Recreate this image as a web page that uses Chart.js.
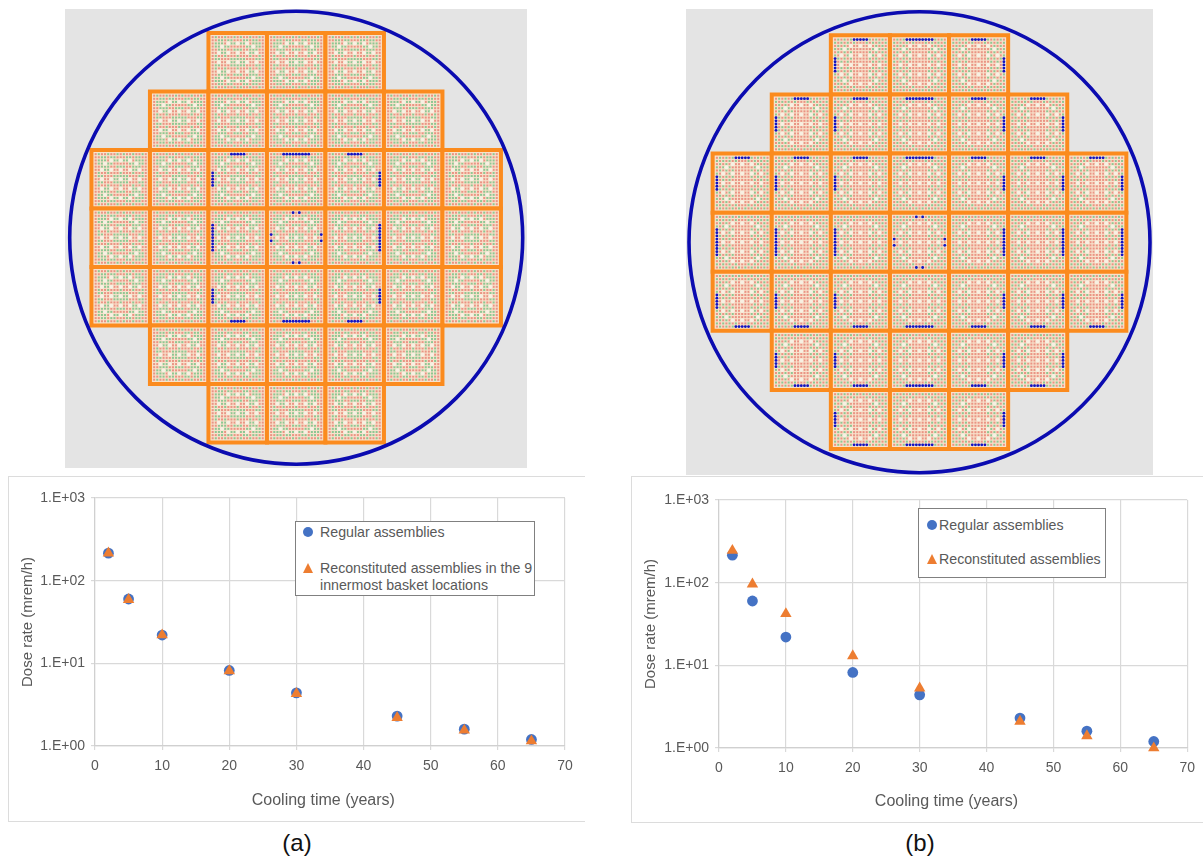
<!DOCTYPE html>
<html>
<head>
<meta charset="utf-8">
<title>Dose rate vs cooling time</title>
<script src="https://cdn.jsdelivr.net/npm/chart.js@4"></script>
<style>
    html, body { margin: 0; padding: 0; background: #fff; overflow: hidden; }
    body { width: 1203px; height: 859px; position: relative; font-family: "Liberation Sans", Arial, sans-serif; color: #595959; filter: blur(0.35px); }
    canvas { position: absolute; display: block; }
    .frame { position: absolute; border: 1px solid #dcdcdc; border-right: none; box-sizing: border-box; }
    .legendBox { position: absolute; background: #fff; border: 1.5px solid #808080; box-sizing: border-box; font-size: 14.2px; line-height: 17px; }
    .legendBox span { position: absolute; white-space: nowrap; }
    .dot { position: absolute; width: 10px; height: 10px; border-radius: 50%; background: #4472c4; }
    .tri { position: absolute; width: 0; height: 0; border-left: 5px solid transparent; border-right: 5px solid transparent; border-bottom: 10px solid #ed7d31; }
    .caption { position: absolute; color: #111; font-size: 24px; line-height: 28px; width: 60px; text-align: center; }
</style>
</head>
<body>

<canvas id="coreA" width="462" height="459" style="left:65px;top:9px"></canvas>
<canvas id="coreB" width="467" height="466" style="left:686px;top:9px"></canvas>

<div class="frame" style="left:8px;top:476px;width:577px;height:346px"></div>
<div class="frame" style="left:631px;top:476px;width:572px;height:347px"></div>
<canvas id="doseA" width="577" height="346" style="left:8px;top:476px"></canvas>
<canvas id="doseB" width="572" height="347" style="left:631px;top:476px"></canvas>

<div class="legendBox" style="left:295px;top:521px;width:240px;height:75px">
    <div class="dot" style="left:7px;top:5px"></div><span style="left:24px;top:2px">Regular assemblies</span>
    <div class="tri" style="left:7px;top:41px"></div><span style="left:24px;top:38px">Reconstituted assemblies in the 9</span>
    <span style="left:24px;top:55px">innermost basket locations</span>
</div>
<div class="legendBox" style="left:918px;top:508px;width:188px;height:70px">
    <div class="dot" style="left:8px;top:11px"></div><span style="left:20px;top:8px">Regular assemblies</span>
    <div class="tri" style="left:8px;top:45px"></div><span style="left:20px;top:42px">Reconstituted assemblies</span>
</div>

<div class="caption" style="left:267px;top:829px">(a)</div>
<div class="caption" style="left:890px;top:829px">(b)</div>

<script>
// Dose rate data
const coolingYears = [2, 5, 10, 20, 30, 45, 55, 65];
const regularDose = [215, 60, 22, 8.2, 4.4, 2.3, 1.6, 1.2];
const reconDoseA = [215, 59, 22, 8.1, 4.3, 2.2, 1.55, 1.15];
const reconDoseB = [245, 96, 42, 13, 5.3, 2.1, 1.4, 1.0];
const doseTicks = [1, 10, 100, 1000];
const doseTickLabels = ['1.E+00', '1.E+01', '1.E+02', '1.E+03'];

// Basket layout: how many assemblies sit in each row
const rowWidths = [3, 5, 7, 7, 7, 5, 3];

// Upper half of one 17x17 assembly (r = red pin, g = green pin, o = guide tube), mirrored for the lower half
const pinRowsA = [
    'rgrrgrrgrgrrgrrgr',
    'rrggrggrrrggrggrr',
    'rgggroggoggorgggr',
    'rggoggrrrrrggoggr',
    'rrgggrrgggrrgggrr',
    'rroggorrorroggorr',
    'rgrrgrrrgrrrgrrgr',
    'rggrrrgggggrrrggr',
    'rrorroggoggorrorr'
];
const pinRowsB = [
    'rgrgrgrgrgrgrgrgr',
    'grgrgrgrrrgrgrgrg',
    'rgrgrorrorrorgrgr',
    'grgogrrrrrrrgogrg',
    'rgrgrgrrrrrgrgrgr',
    'grorgorrorrogrorg',
    'rgrgrgrrrrrgrgrgr',
    'grgrgrrrrrrrgrgrg',
    'rrorrorrorrorrorr'
];

Chart.defaults.font.family = '"Liberation Sans", Arial, sans-serif';
Chart.defaults.color = '#595959';
Chart.defaults.animation = false;

const rowCenter = 3;
const pinPitch = 0.0535;

function forEachAssembly(callback) {
    rowWidths.forEach((width, row) => {
        const firstCol = rowCenter - (width - 1) / 2;
        for (let i = 0; i < width; i++) {
            callback(row, firstCol + i);
        }
    });
}

// Which edge pins of an assembly are blue, depends on the side of the basket it sits on
function bluePins(row, col) {
    const pins = [];
    const dRow = row - rowCenter;
    const dCol = col - rowCenter;
    const range5 = [6, 7, 8, 9, 10];
    const range9 = [4, 5, 6, 7, 8, 9, 10, 11, 12];
    const centerPair = [7, 9];

    if (dRow === 0 && dCol === 0) {
        centerPair.forEach(k => {
            pins.push([0, k], [16, k], [k, 0], [k, 16]);
        });
        return pins;
    }
    if (dRow !== 0) {
        const r = dRow < 0 ? 0 : 16;
        (dCol === 0 ? range9 : range5).forEach(k => pins.push([r, k]));
    }
    if (dCol !== 0) {
        const c = dCol < 0 ? 0 : 16;
        (dRow === 0 ? range9 : range5).forEach(k => pins.push([k, c]));
    }
    return pins;
}

function drawCore(canvasId, pinRows, panel) {
    const allRows = pinRows.concat(pinRows.slice(0, 8).reverse());
    const boxes = [], red = [], green = [], tubes = [], blue = [];

    forEachAssembly((row, col) => {
        const ax = col - rowCenter;
        const ay = rowCenter - row;
        boxes.push({ x: ax, y: ay });

        allRows.forEach((rowText, r) => {
            for (let c = 0; c < rowText.length; c++) {
                const p = { x: ax + (c - 8) * pinPitch, y: ay + (8 - r) * pinPitch };
                if (rowText[c] === 'o') tubes.push(p);
                else if (rowText[c] === 'g') green.push(p);
                else red.push(p);
            }
        });

        if (panel.blueOnlyInner && (Math.abs(row - rowCenter) > 1 || Math.abs(col - rowCenter) > 1)) {
            return;
        }
        bluePins(row, col).forEach(([r, c]) => {
            blue.push({ x: ax + (c - 8) * pinPitch, y: ay + (8 - r) * pinPitch });
        });
    });

    const canvas = document.getElementById(canvasId);
    const pitch = panel.pitch;

    new Chart(canvas, {
        type: 'scatter',
        data: {
            datasets: [
                { data: [{ x: 0, y: 0 }], order: 1, clip: false, pointStyle: 'circle', pointRadius: panel.ring, backgroundColor: 'rgba(0,0,0,0)', borderColor: '#0b0bb0', pointBorderWidth: 3.6 },
                { data: blue, order: 2, clip: false, pointStyle: 'circle', pointRadius: 1.4, backgroundColor: '#1212c4', borderWidth: 0 },
                { data: tubes, order: 3, clip: false, pointStyle: 'circle', pointRadius: 2.1, backgroundColor: '#f7f0e2', borderWidth: 0 },
                { data: green, order: 4, clip: false, pointStyle: 'rect', pointRadius: 1.45, backgroundColor: '#8ec792', borderWidth: 0 },
                { data: red, order: 5, clip: false, pointStyle: 'rect', pointRadius: 1.45, backgroundColor: '#ea9484', borderWidth: 0 },
                { data: boxes, order: 6, clip: false, pointStyle: 'rect', pointRadius: pitch / Math.SQRT2, backgroundColor: '#f8e2cc', borderColor: '#fb8b1e', pointBorderWidth: 4 }
            ]
        },
        options: {
            responsive: false,
            devicePixelRatio: 1,
            // autoPadding would shrink the plot by the radius of the big ring marker
            layout: { padding: 0, autoPadding: false },
            events: [],
            plugins: { legend: { display: false }, tooltip: { enabled: false } },
            scales: {
                x: { display: false, min: -panel.cx / pitch, max: (canvas.width - panel.cx) / pitch },
                y: { display: false, min: -(canvas.height - panel.cy) / pitch, max: panel.cy / pitch }
            }
        },
        plugins: [{
            id: 'panelBackground',
            beforeDraw(chart) {
                chart.ctx.fillStyle = '#e4e4e4';
                chart.ctx.fillRect(0, 0, chart.width, chart.height);
            }
        }]
    });
}

function drawDose(canvasId, reconDose, box) {
    new Chart(document.getElementById(canvasId), {
        type: 'scatter',
        data: {
            datasets: [
                {
                    label: 'Regular assemblies',
                    data: coolingYears.map((x, i) => ({ x: x, y: regularDose[i] })),
                    order: 2,
                    pointStyle: 'circle',
                    pointRadius: 5.4,
                    backgroundColor: '#4472c4',
                    borderWidth: 0,
                    clip: false
                },
                {
                    label: 'Reconstituted assemblies',
                    data: coolingYears.map((x, i) => ({ x: x, y: reconDose[i] })),
                    order: 1,
                    pointStyle: 'triangle',
                    pointRadius: 6.6,
                    backgroundColor: '#ed7d31',
                    borderWidth: 0,
                    clip: false
                }
            ]
        },
        options: {
            responsive: false,
            devicePixelRatio: 1,
            events: [],
            layout: { padding: { top: box.top, right: box.right, left: 0, bottom: 0 }, autoPadding: false },
            plugins: { legend: { display: false }, tooltip: { enabled: false } },
            scales: {
                x: {
                    type: 'linear',
                    min: 0,
                    max: 70,
                    afterFit: scale => { scale.height = box.bottom; },
                    grid: { color: '#d9d9d9', lineWidth: 1.2, tickLength: 4 },
                    border: { color: '#d0d0d0', width: 1.2 },
                    ticks: { stepSize: 10, padding: 8, font: { size: 14 }, maxRotation: 0 },
                    // trailing no-break spaces: the original title sits a little left of the plot centre
                    title: { display: true, text: 'Cooling time (years)\u00a0\u00a0\u00a0', font: { size: 16 }, color: '#595959', padding: { top: 0, bottom: 12 } }
                },
                y: {
                    type: 'logarithmic',
                    min: 1,
                    max: 1000,
                    afterFit: scale => { scale.width = box.left; },
                    afterBuildTicks: scale => { scale.ticks = doseTicks.map(v => ({ value: v })); },
                    grid: { color: '#d9d9d9', lineWidth: 1.2, tickLength: 4 },
                    border: { color: '#d0d0d0', width: 1.2 },
                    ticks: {
                        autoSkip: false,
                        padding: 6,
                        font: { size: 14 },
                        callback: (value, index) => doseTickLabels[index]
                    },
                    title: { display: true, text: 'Dose rate (mrem/h)', font: { size: 15 }, color: '#595959', padding: { top: 11, bottom: 0 } }
                }
            }
        }
    });
}

drawCore('coreA', pinRowsA, { cx: 231.2, cy: 228.7, pitch: 58.5, ring: 226.5, blueOnlyInner: true });
drawCore('coreB', pinRowsB, { cx: 233.5, cy: 233.2, pitch: 59.1, ring: 230.5, blueOnlyInner: false });

drawDose('doseA', reconDoseA, { left: 87, top: 22, right: 20, bottom: 76 });
drawDose('doseB', reconDoseB, { left: 88, top: 24, right: 15, bottom: 75 });
</script>
</body>
</html>
